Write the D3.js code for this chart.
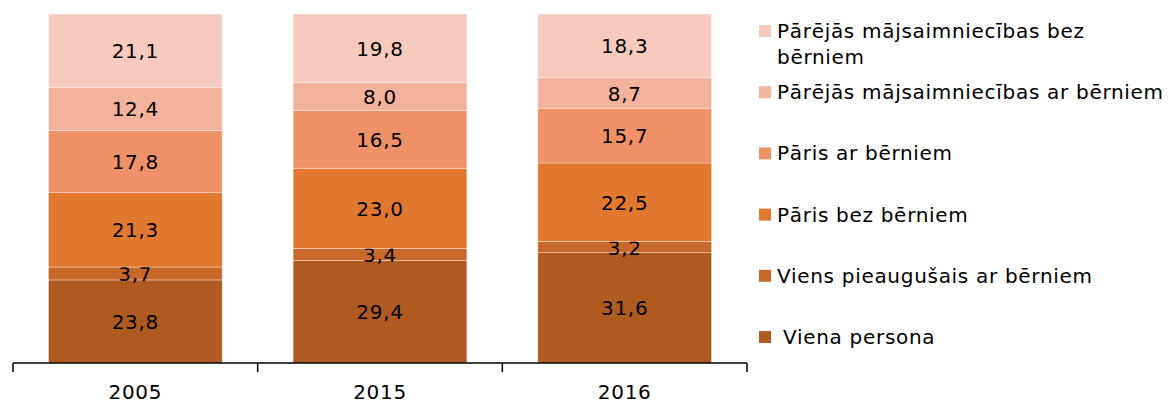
<!DOCTYPE html>
<html>
<head>
<meta charset="utf-8">
<script src="https://cdn.jsdelivr.net/npm/d3@7"></script>
<style>
  body { margin: 0; background: #fff; }
  svg { display: block; font-family: "DejaVu Sans", Verdana, sans-serif; }
  svg text { letter-spacing: 0.7px; }
</style>
</head>
<body>
<div id="chart"></div>
<script>
// data
const years = ["2005", "2015", "2016"];
const seriesNames = [
    "Viena persona",
    "Viens pieaugušais ar bērniem",
    "Pāris bez bērniem",
    "Pāris ar bērniem",
    "Pārējās mājsaimniecības ar bērniem",
    "Pārējās mājsaimniecības bez bērniem"
];
const vienaPersona = [23.8, 29.4, 31.6];
const viensAr = [3.7, 3.4, 3.2];
const parisBez = [21.3, 23.0, 22.5];
const parisAr = [17.8, 16.5, 15.7];
const parejasAr = [12.4, 8.0, 8.7];
const parejasBez = [21.1, 19.8, 18.3];
const colors = ["#AE5A21", "#C8682A", "#E07830", "#EF9268", "#F2B29B", "#F6CBBE"];

const allSeries = [vienaPersona, viensAr, parisBez, parisAr, parejasAr, parejasBez];

const width = 1168, height = 403;
const svg = d3.select("#chart").append("svg")
    .attr("width", width)
    .attr("height", height);

const x = d3.scaleBand().domain(years).range([13, 747]).paddingInner(0.29).paddingOuter(0.145);
const y = d3.scaleLinear().domain([0, 100]).range([363, 14]);

// build stacked rows
const rows = years.map((yr, i) => {
    const r = { year: yr };
    allSeries.forEach((s, k) => r[k] = s[i]);
    return r;
});
const stack = d3.stack().keys(d3.range(allSeries.length))(rows);

const layer = svg.append("g").selectAll("g")
    .data(stack)
    .enter().append("g")
    .attr("fill", (d, k) => colors[k]);

layer.selectAll("rect")
    .data(d => d)
    .enter().append("rect")
    .attr("x", d => x(d.data.year))
    .attr("width", x.bandwidth())
    .attr("y", d => y(Math.min(d[1], 100)))
    .attr("height", d => y(d[0]) - y(Math.min(d[1], 100)))
    .attr("stroke", "#fff")
    .attr("stroke-opacity", 0.5)
    .attr("stroke-width", 0.7);

layer.selectAll("text")
    .data(d => d)
    .enter().append("text")
    .attr("x", d => x(d.data.year) + x.bandwidth() / 2)
    .attr("y", d => (y(d[0]) + y(Math.min(d[1], 100))) / 2 + 7.5)
    .attr("text-anchor", "middle")
    .attr("fill", "#000")
    .style("font-size", "20px")
    .text(d => d3.format(".1f")(d[1] - d[0]).replace(".", ","));

// x axis
const axisG = svg.append("g");
axisG.append("line")
    .attr("x1", 13).attr("x2", 747)
    .attr("y1", 363).attr("y2", 363)
    .attr("stroke", "#000").attr("stroke-width", 1.5);
const tickXs = [13].concat(years.map(yr => x(yr) + x.bandwidth() + x.step() * x.paddingInner() / 2));
tickXs[tickXs.length - 1] = 747;
axisG.selectAll("line.tick")
    .data(tickXs)
    .enter().append("line")
    .attr("class", "tick")
    .attr("x1", d => d).attr("x2", d => d)
    .attr("y1", 363).attr("y2", 372)
    .attr("stroke", "#000").attr("stroke-width", 1.5);
axisG.selectAll("text")
    .data(years)
    .enter().append("text")
    .attr("x", d => x(d) + x.bandwidth() / 2)
    .attr("y", 399)
    .attr("text-anchor", "middle")
    .style("font-size", "20px")
    .text(d => d);

// legend (top to bottom, reverse order)
const legendItems = seriesNames.map((n, k) => ({ name: n, color: colors[k] })).reverse();
const legend = svg.append("g").selectAll("g")
    .data(legendItems)
    .enter().append("g")
    .attr("transform", (d, i) => `translate(759, ${31 + i * 61.2})`);
legend.append("rect")
    .attr("x", 0).attr("y", -6)
    .attr("width", 12).attr("height", 12)
    .attr("fill", d => d.color);
legend.append("text")
    .attr("x", d => d.name === "Viena persona" ? 24 : 18)
    .attr("y", 7)
    .style("font-size", "20px")
    .attr("fill", "#000")
    .each(function(d) {
        const t = d3.select(this);
        if (d.name === "Pārējās mājsaimniecības bez bērniem") {
            t.append("tspan").attr("x", 18).attr("dy", 0).text("Pārējās mājsaimniecības bez");
            t.append("tspan").attr("x", 18).attr("dy", 26).text("bērniem");
        } else {
            t.text(d.name);
        }
    });
</script>
</body>
</html>
